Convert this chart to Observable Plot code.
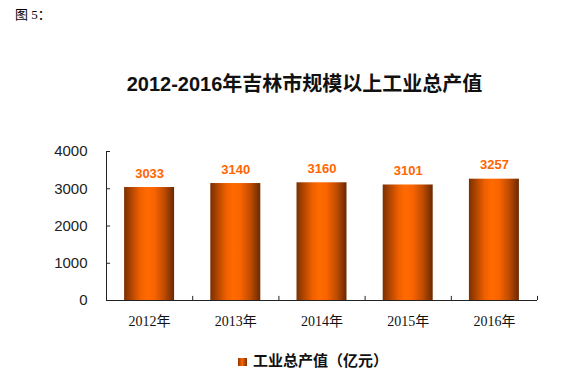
<!DOCTYPE html>
<html><head><meta charset="utf-8">
<script src="https://cdn.jsdelivr.net/npm/d3@7"></script>
<script src="https://cdn.jsdelivr.net/npm/@observablehq/plot@0.6"></script>
<style>
body{margin:0;background:#fff;}
#wrap{position:relative;width:588px;height:391px;overflow:hidden;background:#fff;}
#chart{position:absolute;left:0;top:0;}
#fig{position:absolute;left:15px;top:4px;font:13px "Liberation Serif","Noto Sans CJK SC";color:#000;}
#title{position:absolute;left:0;width:609px;top:68px;text-align:center;font:bold 20px "Liberation Sans","Noto Sans CJK SC";color:#111;white-space:nowrap;}
#legend{position:absolute;left:238px;top:350px;font:bold 15px "Noto Sans CJK SC";color:#111;white-space:nowrap;line-height:20px;}
#legend .sw{display:inline-block;width:9px;height:8px;margin-right:6px;vertical-align:0px;background:linear-gradient(90deg,#8a3400,#ff6600 45%,#7a2e00);}
</style></head><body>
<div id="wrap">
 <div id="chart"></div>
 <div id="fig">图 5：</div>
 <div id="title">2012-2016年吉林市规模以上工业总产值</div>
 <div id="legend"><span class="sw"></span>工业总产值（亿元）</div>
</div>
<script>
const years = ["2012年","2013年","2014年","2015年","2016年"];
const values = [3033, 3140, 3160, 3101, 3257];
const yTicks = [0, 1000, 2000, 3000, 4000];
const data = years.map((year, i) => ({year, value: values[i]}));

const plot = Plot.plot({
  width: 588, height: 391,
  marginLeft: 106, marginRight: 51, marginTop: 151, marginBottom: 91,
  x: {domain: years, paddingInner: 0.42, paddingOuter: 0.21, round: false, label: null},
  y: {domain: [0, 4000], label: null},
  style: {background: "transparent", fontFamily: "Liberation Sans, Arial, sans-serif", color: "#222"},
  marks: [
    Plot.barY(data, {x: "year", y: "value", fill: "url(#barGrad)"}),
    Plot.text(data, {x: "year", y: "value", text: d => String(d.value), dy: -14,
      fill: "#ff6600", fontWeight: "bold", fontSize: 13, fontFamily: "Liberation Sans, Arial"}),
    Plot.axisY({ticks: yTicks, tickSize: 0, tickPadding: 19, fontSize: 15, tickFormat: d3.format("d"), fill: "#222"}),
    Plot.axisY({ticks: yTicks, tickSize: -4, text: null, stroke: "#222"}),
    Plot.axisX({tickSize: 0, tickPadding: 16, fontSize: 14, fontFamily: "Liberation Serif, Noto Sans CJK SC", fill: "#111"}),
    Plot.ruleX(years, {x: d => d, y1: 0, y2: 110, dx: 43.1, stroke: "#222"}),
    Plot.ruleY([0], {stroke: "#222"}),
    Plot.frame({anchor: "left", stroke: "#222"})
  ]
});

const svg = d3.select(plot);
const g = svg.insert("defs", ":first-child").append("linearGradient")
  .attr("id", "barGrad").attr("x1", "0").attr("x2", "1").attr("y1", "0").attr("y2", "0");
[[0, "#7a3000"], [0.12, "#a84200"], [0.32, "#f06000"], [0.45, "#ff6a00"], [0.6, "#fa6400"], [0.8, "#c04c00"], [1, "#6a2800"]]
  .forEach(([o, c]) => g.append("stop").attr("offset", o).attr("stop-color", c));

document.getElementById("chart").append(plot);
</script>
</body></html>
